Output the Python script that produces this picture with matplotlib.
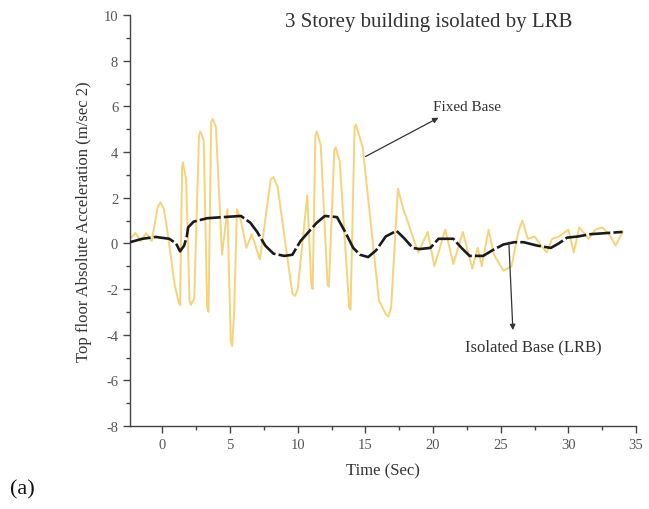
import matplotlib
matplotlib.use("Agg")
import matplotlib.pyplot as plt
from matplotlib.ticker import MultipleLocator

fixed_t = [-2.4, -2.0, -1.6, -1.2, -0.8, -0.35, -0.15, 0.1, 0.3, 0.9, 1.2, 1.3, 1.45, 1.5, 1.75, 2.0, 2.1,
           2.35, 2.7, 2.8, 3.05, 3.3, 3.4, 3.6, 3.7, 3.95, 4.4, 4.8, 5.05, 5.15, 5.3, 5.5, 5.8, 6.2, 6.6,
           7.2, 8.0, 8.2, 8.5, 9.6, 9.8, 10.0, 10.7, 11.0, 11.1, 11.3, 11.4, 11.7, 12.2, 12.3, 12.7, 12.8,
           13.1, 13.8, 13.9, 14.2, 14.3, 14.8, 16.0, 16.5, 16.7, 16.9, 17.4, 17.8, 18.9, 19.6,
           20.1, 20.9, 21.5, 22.2, 22.9, 23.3, 23.6, 24.1, 24.5, 25.2, 25.8, 26.3, 26.6, 27.0,
           27.5, 28.0, 28.4, 28.8, 29.3, 30.0, 30.4, 30.8, 31.5, 32.0, 32.5, 33.0, 33.5, 34.0]
fixed_a = [0.2, 0.45, 0.1, 0.45, 0.1, 1.6, 1.8, 1.5, 0.8, -1.8, -2.6, -2.7, 3.3, 3.55, 2.8, -2.5, -2.7,
           -2.4, 4.7, 4.9, 4.5, -2.8, -3.0, 5.3, 5.45, 5.1, -0.5, 1.5, -4.3, -4.5, -3.0, 1.5, 1.0, -0.2, 0.4,
           -0.7, 2.8, 2.9, 2.5, -2.2, -2.3, -2.0, 2.1, -1.8, -2.0, 4.7, 4.9, 4.3, -1.8, -1.9, 4.1, 4.2,
           3.6, -2.8, -2.9, 5.1, 5.2, 4.2, -2.5, -3.1, -3.2, -2.8, 2.4, 1.5, -0.4, 0.5,
           -1.0, 0.6, -0.9, 0.5, -1.1, -0.2, -1.0, 0.6, -0.5, -1.2, -1.0, 0.5, 1.0, 0.2,
           0.3, -0.1, -0.4, 0.2, 0.3, 0.6, -0.4, 0.7, 0.2, 0.6, 0.7, 0.4, -0.1, 0.5]

iso_t = [-2.4, -1.5, -0.5, 0.5, 1.0, 1.3, 1.6, 1.8, 1.9, 2.3, 3.3, 4.5, 5.8, 6.5, 7.0, 7.6,
         8.2, 9.0, 9.6, 10.2, 10.8, 11.4, 12.0, 12.9, 13.5, 14.1, 14.6, 15.2, 15.8, 16.5, 17.3,
         17.9, 18.5, 19.0, 19.8, 20.4, 21.5, 22.1, 22.7, 23.7, 24.4, 25.2, 26.0, 26.7, 27.7,
         28.7, 29.3, 29.9, 30.7, 31.6, 32.8, 34.0]
iso_a = [0.05, 0.2, 0.28, 0.2, 0.0, -0.35, -0.1, 0.3, 0.7, 0.95, 1.1, 1.15, 1.2, 0.9, 0.5, -0.1,
         -0.45, -0.55, -0.5, 0.1, 0.5, 0.9, 1.2, 1.15, 0.5, -0.2, -0.5, -0.6, -0.3, 0.3, 0.55,
         0.2, -0.2, -0.25, -0.2, 0.2, 0.2, -0.2, -0.55, -0.55, -0.3, -0.05, 0.05, 0.05, -0.1,
         -0.2, 0.0, 0.25, 0.3, 0.4, 0.45, 0.5]

xticks = [0, 5, 10, 15, 20, 25, 30, 35]
yticks = [-8, -6, -4, -2, 0, 2, 4, 6, 8, 10]

plt.rcParams['font.family'] = ['Liberation Serif', 'DejaVu Serif']
plt.rcParams['axes.unicode_minus'] = False

fig = plt.figure(figsize=(6.49, 5.10), dpi=100)
ax = fig.add_axes([0.2003, 0.1627, 0.7797, 0.8059])

ax.plot(fixed_t, fixed_a, color='#F6D27A', lw=1.4, zorder=2, solid_joinstyle='round')
ax.plot(iso_t, iso_a, color='#1a1a1a', lw=1.9, dashes=(8, 1.2), zorder=3)

ax.set_xlim(-2.4, 35)
ax.set_ylim(-8, 10)
ax.set_xticks(xticks)
ax.set_yticks(yticks)
ax.xaxis.set_minor_locator(MultipleLocator(2.5))
ax.yaxis.set_minor_locator(MultipleLocator(1))
ax.spines['top'].set_visible(False)
ax.spines['right'].set_visible(False)
for s in ['left', 'bottom']:
    ax.spines[s].set_color('#444444')
    ax.spines[s].set_linewidth(1.0)
ax.tick_params(which='major', direction='out', length=5, width=1, colors='#444444',
               labelsize=10.5, labelcolor='#555555')
ax.tick_params(which='minor', direction='out', length=3, width=1, colors='#444444')

ax.set_xlabel('Time (Sec)', fontsize=12, color='#333333', labelpad=8)
ax.set_ylabel('Top floor Absolute Acceleration (m/sec 2)', fontsize=12, color='#333333', labelpad=8)

fig.text(0.66, 0.955, '3 Storey building isolated by LRB', fontsize=15, color='#333333',
         ha='center', va='center')

ax.text(22.5, 6.0, 'Fixed Base', fontsize=11, color='#333333', ha='center', va='center')
ax.annotate('', xy=(20.4, 5.5), xytext=(15.0, 3.8),
            arrowprops=dict(arrowstyle='-|>', color='#333333', lw=0.9, mutation_scale=8,
                            shrinkA=0, shrinkB=0))
ax.annotate('', xy=(25.9, -3.8), xytext=(25.6, 0.05),
            arrowprops=dict(arrowstyle='-|>', color='#333333', lw=0.9, mutation_scale=8,
                            shrinkA=0, shrinkB=0))
ax.text(27.4, -4.5, 'Isolated Base (LRB)', fontsize=12, color='#333333', ha='center', va='center')

fig.text(0.015, 0.04, '(a)', fontsize=16, color='#111111', ha='left', va='center')

fig.savefig('out.png', dpi=100)
